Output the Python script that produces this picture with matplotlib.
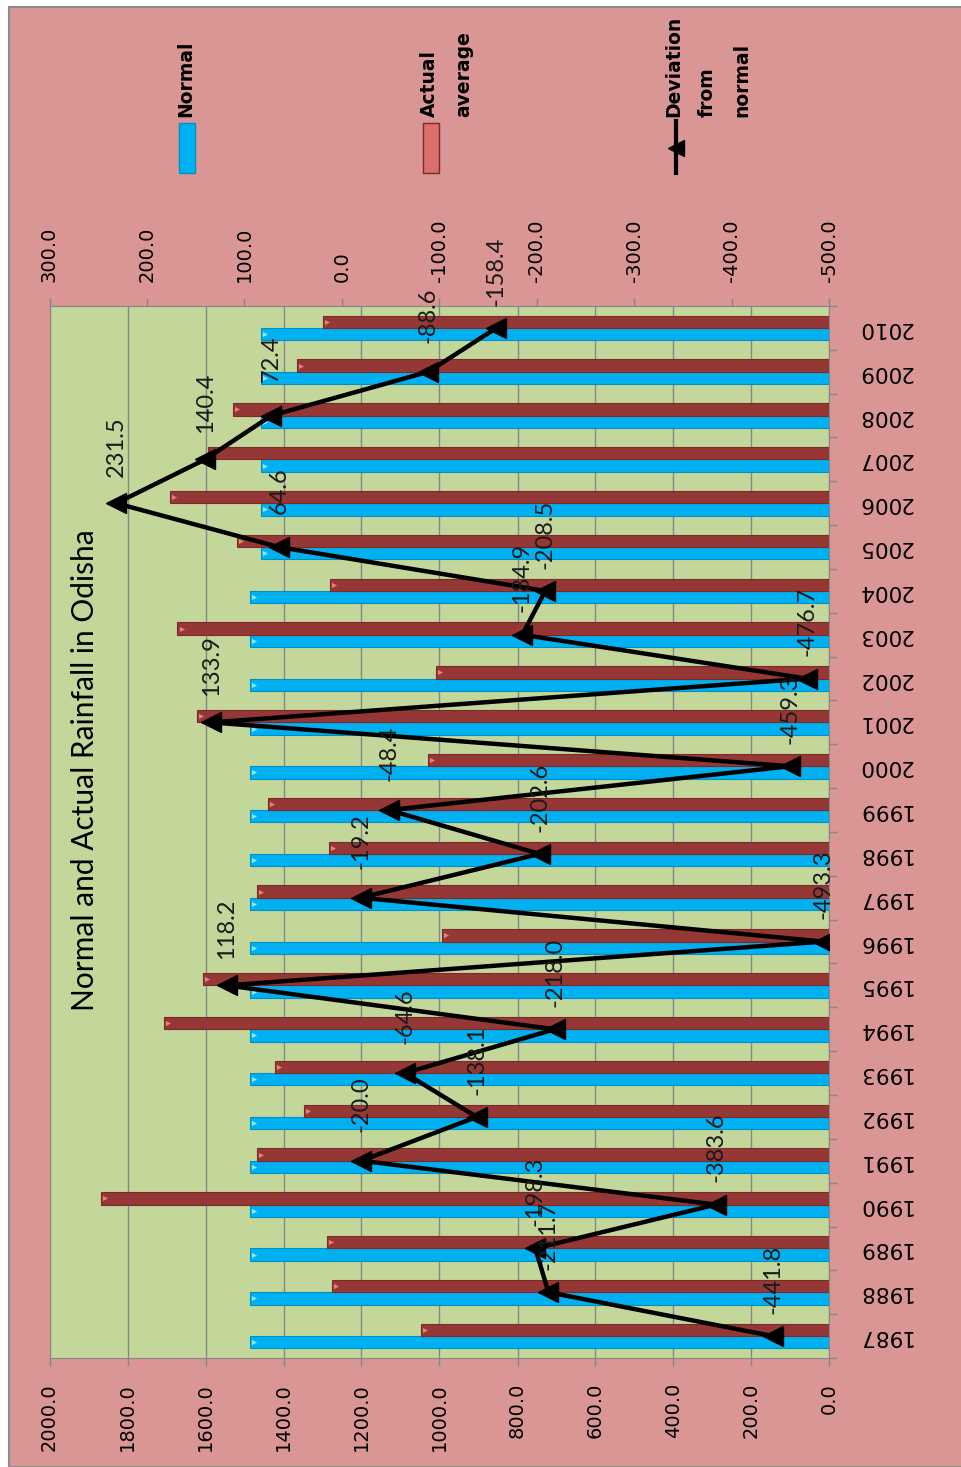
import matplotlib
matplotlib.use("Agg")
import matplotlib.pyplot as plt
import matplotlib.transforms as mtransforms
from matplotlib.patches import Rectangle
from matplotlib.lines import Line2D
import numpy as np

years = [1987, 1988, 1989, 1990, 1991, 1992, 1993, 1994, 1995, 1996, 1997, 1998,
         1999, 2000, 2001, 2002, 2003, 2004, 2005, 2006, 2007, 2008, 2009, 2010]
normal = [1486, 1486, 1486, 1486, 1486, 1486, 1486, 1486, 1486, 1486, 1486, 1486,
          1486, 1486, 1486, 1486, 1486, 1486, 1458, 1458, 1458, 1458, 1458, 1458]
actual = [1047, 1276, 1288, 1869, 1469, 1347, 1421, 1706, 1606, 994, 1469, 1284,
          1439, 1029, 1621, 1010, 1672, 1281, 1520, 1691, 1594, 1529, 1365, 1299]
deviation = [-441.8, -211.7, -198.3, -383.6, -20.0, -138.1, -64.6, -218.0, 118.2, -493.3,
             -19.2, -202.6, -48.4, -459.3, 133.9, -476.7, -184.9, -208.5, 64.6, 231.5,
             140.4, 72.4, -88.6, -158.4]

bg = '#DA9694'
plot_bg = '#C4D79B'
blue = '#00B0F0'
red = '#953735'
grey = '#868686'

W, H = 961, 1467
fig = plt.figure(figsize=(W / 100, H / 100), dpi=100)
fig.patch.set_facecolor('white')
fig.patches.append(Rectangle((9 / W, 0), 1, 1 - 7 / H, transform=fig.transFigure,
                             facecolor=bg, edgecolor='#8c8c8c', lw=1.5, zorder=-10))

left, right, top, bottom = 49.5, 829.5, 306, 1358
ax = fig.add_axes([left / W, 1 - bottom / H, (right - left) / W, (bottom - top) / H])
ax.set_facecolor(plot_bg)

idx = np.arange(len(years))
h = 0.28
ax.barh(idx - 0.14, normal, height=h, color=blue, edgecolor='#0090c8', lw=0.8, zorder=2)
ax.barh(idx + 0.14, actual, height=h, color=red, edgecolor='#7a2a28', lw=0.8, zorder=2)
# small bevel tips at bar ends
shift = mtransforms.ScaledTranslation(3 / 72, 0, fig.dpi_scale_trans)
ax.scatter(normal, idx - 0.14, marker='>', s=14, color='#8fe6ff', lw=0, zorder=3,
           transform=ax.transData + shift)
ax.scatter(actual, idx + 0.14, marker='>', s=14, color='#e5807c', lw=0, zorder=3,
           transform=ax.transData + shift)

ax.set_xlim(2000, 0)
ax.set_ylim(-0.5, len(years) - 0.5)
ax.set_xticks(np.arange(0, 2001, 200))
ax.set_xticklabels(['%.1f' % v for v in np.arange(0, 2001, 200)], rotation=90, fontsize=14)
ax.tick_params(axis='x', direction='out', length=6, width=1, color=grey, pad=12)
ax.grid(axis='x', color=grey, lw=1)
ax.set_axisbelow(True)

ax.yaxis.tick_right()
ax.set_yticks(idx)
ax.set_yticklabels([str(y) for y in years], rotation=180, fontsize=15.5, va='center')
ax.tick_params(axis='y', which='major', length=0, pad=20)
ax.set_yticks(np.arange(-0.5, len(years), 1), minor=True)
ax.tick_params(axis='y', which='minor', length=6, width=1, color=grey, direction='out')
for s in ['bottom', 'right', 'left']:
    ax.spines[s].set_color(grey)
ax.spines['top'].set_visible(False)

# deviation on the secondary axis
ax2 = ax.twiny()
ax2.plot(deviation, idx, color='black', lw=3.2, marker='<', markersize=14,
         markerfacecolor='black', markeredgecolor='black', zorder=5)
ax2.set_xlim(300, -500)
ax2.set_xticks(np.arange(-500, 301, 100))
ax2.set_xticklabels(['%.1f' % v for v in np.arange(-500, 301, 100)], rotation=90, fontsize=14)
ax2.tick_params(axis='x', direction='out', length=6, width=1, color=grey, pad=11)
for s in ['bottom', 'right', 'left']:
    ax2.spines[s].set_visible(False)
ax2.spines['top'].set_color(grey)
ax2.yaxis.set_visible(False)

for d, i in zip(deviation, idx):
    ax2.annotate('%.1f' % d, (d, i), xytext=(0, 41), textcoords='offset points',
                 rotation=90, ha='center', va='center', fontsize=17, family='Lato',
                 color='#1a1a1a', zorder=6)

fig.text(85 / W, 1 - 770 / H, 'Normal and Actual Rainfall in Odisha', rotation=90,
         ha='center', va='center', fontsize=21.5, family='Lato')

# legend, drawn by hand because it is rotated with the chart
fig.patches.append(Rectangle((179 / W, 1 - 173 / H), 16 / W, 50 / H, transform=fig.transFigure,
                             facecolor=blue, edgecolor='#0090c8', lw=1))
fig.patches.append(Rectangle((423 / W, 1 - 173 / H), 16 / W, 50 / H, transform=fig.transFigure,
                             facecolor='#d9706c', edgecolor='#7a2a28', lw=1))
fig.lines.append(Line2D([676 / W, 676 / W], [1 - 173 / H, 1 - 121 / H], transform=fig.transFigure,
                        color='black', lw=3))
fig.lines.append(Line2D([676 / W], [1 - 148 / H], transform=fig.transFigure, color='black',
                        marker='<', markersize=11))
leg_kw = dict(rotation=90, ha='left', va='bottom', fontsize=13.5, fontweight='bold',
              multialignment='left', linespacing=2.0)
fig.text(176 / W, 1 - 117 / H, 'Normal', **leg_kw)
fig.text(420 / W, 1 - 117 / H, 'Actual\naverage', **leg_kw)
fig.text(664 / W, 1 - 117 / H, 'Deviation\nfrom\nnormal', **leg_kw)

fig.savefig('out.png', dpi=100, facecolor=fig.get_facecolor())
